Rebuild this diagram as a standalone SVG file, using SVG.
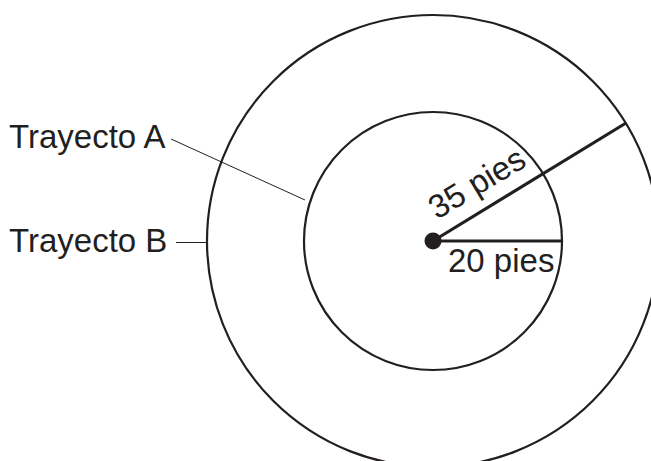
<svg xmlns="http://www.w3.org/2000/svg" width="651" height="461" viewBox="0 0 651 461">
<style>
.c{fill:none;stroke:#231f20;stroke-width:2.2}
.r{stroke:#231f20;stroke-width:3.2}
.l{stroke:#231f20;stroke-width:1}
text{font-family:"Liberation Sans",Arial,sans-serif;font-size:33px;fill:#231f20}
</style>
<rect width="651" height="461" fill="#fff"/>
<g id="trayectoB"><circle class="c" cx="433" cy="241" r="226"/></g>
<g id="trayectoA"><circle class="c" cx="433" cy="241" r="129"/></g>
<g id="connectors">
<line class="r" x1="433" y1="241" x2="626" y2="123"/>
<line class="r" x1="433" y1="241" x2="562" y2="241"/>
<line class="l" x1="171" y1="139" x2="305" y2="200"/>
<line class="l" x1="176" y1="242.5" x2="206" y2="242.5"/>
</g>
<g id="center"><circle cx="433" cy="241" r="8.5" fill="#231f20"/></g>
<g id="labelA"><text x="9" y="148">Trayecto A</text></g>
<g id="labelB"><text x="9" y="252">Trayecto B</text></g>
<g id="label35"><text transform="translate(437,220) rotate(-31)">35 pies</text></g>
<g id="label20"><text x="448" y="272">20 pies</text></g>
</svg>
